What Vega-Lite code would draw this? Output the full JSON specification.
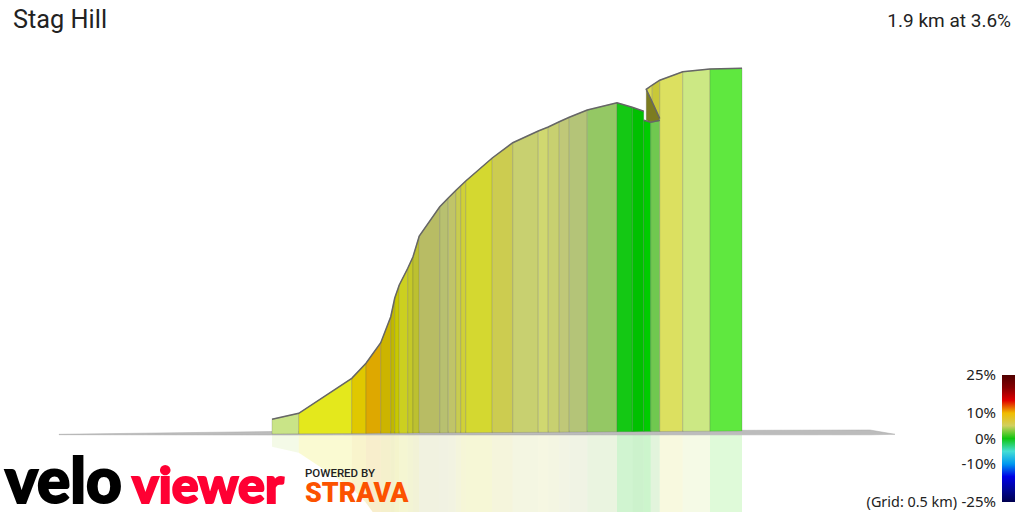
{
  "$schema": "https://vega.github.io/schema/vega-lite/v6.json",
  "width": 1024,
  "height": 512,
  "padding": 0,
  "autosize": "none",
  "background": "white",
  "title": {
    "text": "Stag Hill",
    "anchor": "start",
    "frame": "group",
    "font": "Roboto",
    "fontSize": 25.3,
    "fontWeight": "normal",
    "color": "#222",
    "baseline": "alphabetic",
    "offset": 0,
    "dx": 13,
    "dy": 53
  },
  "config": {
    "view": {"stroke": null},
    "axis": {"disable": true},
    "range": {
      "category": [
        "#c9e487", "#e4e81c", "#e0c800", "#dea800", "#ccb400", "#c0b800", "#c8c800", "#ccd020",
        "#c4c828", "#bcc030", "#b8bc64", "#b8c070", "#c0c468", "#c8cc50", "#d0d038", "#d4d830",
        "#cccc50", "#c8d070", "#d0d870", "#c8d070", "#c0c878", "#b4c478", "#94c864", "#14c814",
        "#00c000", "#00cc00", "#70c850", "#7c7c20", "#d8d850", "#c8c838", "#dce060", "#cce884", "#5fe83f"
      ]
    }
  },
  "datasets": {
    "segments": [
      {"seg": 1, "km": 0, "elev": 2.74, "base": -0.2},
      {"seg": 1, "km": 0.107, "elev": 3.94, "base": -0.17},
      {"seg": 2, "km": 0.107, "elev": 3.94, "base": -0.17},
      {"seg": 2, "km": 0.319, "elev": 10.94, "base": -0.1},
      {"seg": 3, "km": 0.319, "elev": 10.94, "base": -0.1},
      {"seg": 3, "km": 0.376, "elev": 13.94, "base": -0.08},
      {"seg": 4, "km": 0.376, "elev": 13.94, "base": -0.08},
      {"seg": 4, "km": 0.435, "elev": 18.06, "base": -0.06},
      {"seg": 5, "km": 0.435, "elev": 18.06, "base": -0.06},
      {"seg": 5, "km": 0.475, "elev": 23.26, "base": -0.05},
      {"seg": 6, "km": 0.475, "elev": 23.26, "base": -0.05},
      {"seg": 6, "km": 0.491, "elev": 27, "base": -0.04},
      {"seg": 7, "km": 0.491, "elev": 27, "base": -0.04},
      {"seg": 7, "km": 0.509, "elev": 29.6, "base": -0.04},
      {"seg": 8, "km": 0.509, "elev": 29.6, "base": -0.04},
      {"seg": 8, "km": 0.543, "elev": 32.94, "base": -0.03},
      {"seg": 9, "km": 0.543, "elev": 32.94, "base": -0.03},
      {"seg": 9, "km": 0.564, "elev": 35.26, "base": -0.02},
      {"seg": 10, "km": 0.564, "elev": 35.26, "base": -0.02},
      {"seg": 10, "km": 0.589, "elev": 39.4, "base": -0.01},
      {"seg": 11, "km": 0.589, "elev": 39.4, "base": -0.01},
      {"seg": 11, "km": 0.671, "elev": 45.26, "base": 0.01},
      {"seg": 12, "km": 0.671, "elev": 45.26, "base": 0.01},
      {"seg": 12, "km": 0.705, "elev": 47, "base": 0.03},
      {"seg": 13, "km": 0.705, "elev": 47, "base": 0.03},
      {"seg": 13, "km": 0.735, "elev": 48.5, "base": 0.04},
      {"seg": 14, "km": 0.735, "elev": 48.5, "base": 0.04},
      {"seg": 14, "km": 0.755, "elev": 49.4, "base": 0.04},
      {"seg": 15, "km": 0.755, "elev": 49.4, "base": 0.04},
      {"seg": 15, "km": 0.775, "elev": 50.4, "base": 0.05},
      {"seg": 16, "km": 0.775, "elev": 50.4, "base": 0.05},
      {"seg": 16, "km": 0.881, "elev": 55, "base": 0.08},
      {"seg": 17, "km": 0.881, "elev": 55, "base": 0.08},
      {"seg": 17, "km": 0.963, "elev": 58.06, "base": 0.11},
      {"seg": 18, "km": 0.963, "elev": 58.06, "base": 0.11},
      {"seg": 18, "km": 1.065, "elev": 60.4, "base": 0.14},
      {"seg": 19, "km": 1.065, "elev": 60.4, "base": 0.14},
      {"seg": 19, "km": 1.105, "elev": 61.2, "base": 0.15},
      {"seg": 20, "km": 1.105, "elev": 61.2, "base": 0.15},
      {"seg": 20, "km": 1.149, "elev": 62.26, "base": 0.17},
      {"seg": 21, "km": 1.149, "elev": 62.26, "base": 0.17},
      {"seg": 21, "km": 1.189, "elev": 63.14, "base": 0.18},
      {"seg": 22, "km": 1.189, "elev": 63.14, "base": 0.18},
      {"seg": 22, "km": 1.261, "elev": 64.6, "base": 0.2},
      {"seg": 23, "km": 1.261, "elev": 64.6, "base": 0.2},
      {"seg": 23, "km": 1.38, "elev": 66.06, "base": 0.24},
      {"seg": 24, "km": 1.38, "elev": 66.06, "base": 0.24},
      {"seg": 24, "km": 1.441, "elev": 65.14, "base": 0.26},
      {"seg": 25, "km": 1.441, "elev": 65.14, "base": 0.26},
      {"seg": 25, "km": 1.487, "elev": 64.34, "base": 0.28},
      {"seg": 26, "km": 1.487, "elev": 62.54, "base": 0.28},
      {"seg": 26, "km": 1.515, "elev": 62.14, "base": 0.28},
      {"seg": 27, "km": 1.515, "elev": 62.14, "base": 0.28},
      {"seg": 27, "km": 1.551, "elev": 62.54, "base": 0.3},
      {"seg": 28, "km": 1.497, "elev": 68.74, "base": 62.54},
      {"seg": 28, "km": 1.515, "elev": 66.84, "base": 62.2},
      {"seg": 28, "km": 1.551, "elev": 62.9, "base": 62.4},
      {"seg": 29, "km": 1.497, "elev": 68.74, "base": 68.74},
      {"seg": 29, "km": 1.521, "elev": 69.6, "base": 66.2},
      {"seg": 30, "km": 1.521, "elev": 69.6, "base": 66.2},
      {"seg": 30, "km": 1.551, "elev": 70.56, "base": 62.9},
      {"seg": 31, "km": 1.551, "elev": 70.56, "base": 0.3},
      {"seg": 31, "km": 1.643, "elev": 72.26, "base": 0.33},
      {"seg": 32, "km": 1.643, "elev": 72.26, "base": 0.33},
      {"seg": 32, "km": 1.752, "elev": 72.8, "base": 0.36},
      {"seg": 33, "km": 1.752, "elev": 72.8, "base": 0.36},
      {"seg": 33, "km": 1.88, "elev": 72.94, "base": 0.4}
    ],
    "ground": [
      {"km": -0.852, "top": -0.26, "low": -0.34},
      {"km": 0, "top": 0.3, "low": -0.4},
      {"km": 2.392, "top": 0.6, "low": -0.36},
      {"km": 2.492, "top": -0.26, "low": -0.26}
    ],
    "outline": [
      {"run": "a", "step": 1, "km": 0, "elev": 2.74},
      {"run": "a", "step": 2, "km": 0.107, "elev": 3.94},
      {"run": "a", "step": 3, "km": 0.319, "elev": 10.94},
      {"run": "a", "step": 4, "km": 0.376, "elev": 13.94},
      {"run": "a", "step": 5, "km": 0.435, "elev": 18.06},
      {"run": "a", "step": 6, "km": 0.475, "elev": 23.26},
      {"run": "a", "step": 7, "km": 0.491, "elev": 27},
      {"run": "a", "step": 8, "km": 0.509, "elev": 29.6},
      {"run": "a", "step": 9, "km": 0.543, "elev": 32.94},
      {"run": "a", "step": 10, "km": 0.564, "elev": 35.26},
      {"run": "a", "step": 11, "km": 0.589, "elev": 39.4},
      {"run": "a", "step": 12, "km": 0.671, "elev": 45.26},
      {"run": "a", "step": 13, "km": 0.705, "elev": 47},
      {"run": "a", "step": 14, "km": 0.735, "elev": 48.5},
      {"run": "a", "step": 15, "km": 0.775, "elev": 50.4},
      {"run": "a", "step": 16, "km": 0.881, "elev": 55},
      {"run": "a", "step": 17, "km": 0.963, "elev": 58.06},
      {"run": "a", "step": 18, "km": 1.065, "elev": 60.4},
      {"run": "a", "step": 19, "km": 1.105, "elev": 61.2},
      {"run": "a", "step": 20, "km": 1.149, "elev": 62.26},
      {"run": "a", "step": 21, "km": 1.189, "elev": 63.14},
      {"run": "a", "step": 22, "km": 1.261, "elev": 64.6},
      {"run": "a", "step": 23, "km": 1.38, "elev": 66.06},
      {"run": "a", "step": 24, "km": 1.441, "elev": 65.14},
      {"run": "a", "step": 25, "km": 1.487, "elev": 64.34},
      {"run": "b", "step": 1, "km": 1.487, "elev": 62.54},
      {"run": "b", "step": 2, "km": 1.515, "elev": 62.14},
      {"run": "b", "step": 3, "km": 1.551, "elev": 62.54},
      {"run": "c", "step": 1, "km": 1.551, "elev": 62.9},
      {"run": "c", "step": 2, "km": 1.521, "elev": 66.2},
      {"run": "c", "step": 3, "km": 1.497, "elev": 68.74},
      {"run": "c", "step": 4, "km": 1.521, "elev": 69.6},
      {"run": "c", "step": 5, "km": 1.551, "elev": 70.56},
      {"run": "c", "step": 6, "km": 1.643, "elev": 72.26},
      {"run": "c", "step": 7, "km": 1.752, "elev": 72.8},
      {"run": "c", "step": 8, "km": 1.88, "elev": 72.94}
    ]
  },
  "resolve": {"scale": {"y": "independent", "color": "independent"}},
  "layer": [
    {
      "data": {"name": "segments"},
      "mark": {"type": "area", "opacity": 0.2, "clip": true, "line": false},
      "encoding": {
        "x": {"field": "km", "type": "quantitative", "scale": {"domain": [-1.088, 3.008], "nice": false}},
        "y": {"field": "elev", "type": "quantitative", "scale": {"domain": [0, 100], "range": [433, 933]}},
        "y2": {"field": "base"},
        "color": {"field": "seg", "type": "nominal", "legend": null}
      }
    },
    {
      "layer": [
        {
          "data": {"name": "ground"},
          "mark": {"type": "area", "fill": "#bcbcbc", "stroke": "#a8a8a8", "strokeWidth": 0.5},
          "encoding": {
            "x": {"field": "km", "type": "quantitative", "scale": {"domain": [-1.088, 3.008], "nice": false}},
            "y": {"field": "top", "type": "quantitative", "scale": {"domain": [-15.8, 86.6], "nice": false, "zero": false}},
            "y2": {"field": "low"}
          }
        },
        {
          "data": {"name": "segments"},
          "mark": {"type": "area", "stroke": "#555", "strokeOpacity": 0.22, "strokeWidth": 1},
          "encoding": {
            "x": {"field": "km", "type": "quantitative"},
            "y": {"field": "elev", "type": "quantitative"},
            "y2": {"field": "base"},
            "color": {"field": "seg", "type": "nominal", "legend": null}
          }
        },
        {
          "data": {"name": "outline"},
          "mark": {"type": "line", "stroke": "#666", "strokeWidth": 1.5},
          "encoding": {
            "x": {"field": "km", "type": "quantitative"},
            "y": {"field": "elev", "type": "quantitative"},
            "detail": {"field": "run"},
            "order": {"field": "step"}
          }
        },
        {
          "data": {"values": [{"label": "1.9 km at 3.6%"}]},
          "mark": {"type": "text", "align": "right", "baseline": "alphabetic", "font": "Roboto", "fontSize": 19, "color": "#222"},
          "encoding": {
            "x": {"datum": 2.956, "type": "quantitative"},
            "y": {"datum": 81.2, "type": "quantitative"},
            "text": {"field": "label"}
          }
        },
        {
          "data": {"values": [{"label": "(Grid: 0.5 km)"}]},
          "mark": {"type": "text", "align": "right", "baseline": "alphabetic", "font": "Noto Sans", "fontSize": 14.4, "color": "#222"},
          "encoding": {
            "x": {"datum": 2.74, "type": "quantitative"},
            "y": {"datum": -14.8, "type": "quantitative"},
            "text": {"field": "label"}
          }
        },
        {
          "data": {"values": [{"label": "velo"}]},
          "mark": {"type": "text", "align": "left", "baseline": "alphabetic", "font": "Lato", "fontWeight": 900, "fontSize": 62, "color": "#000", "stroke": "#000", "strokeWidth": 2},
          "encoding": {
            "x": {"datum": -1.068, "type": "quantitative"},
            "y": {"datum": -14, "type": "quantitative"},
            "text": {"field": "label"}
          }
        },
        {
          "data": {"values": [{"label": "viewer"}]},
          "mark": {"type": "text", "align": "left", "baseline": "alphabetic", "font": "Lato", "fontWeight": 900, "fontSize": 50, "color": "#ff0033", "stroke": "#ff0033", "strokeWidth": 2},
          "encoding": {
            "x": {"datum": -0.56, "type": "quantitative"},
            "y": {"datum": -14, "type": "quantitative"},
            "text": {"field": "label"}
          }
        },
        {
          "data": {"values": [{"label": "POWERED BY"}]},
          "mark": {"type": "text", "align": "left", "baseline": "alphabetic", "font": "Roboto", "fontWeight": 500, "fontSize": 11.5, "color": "#222"},
          "encoding": {
            "x": {"datum": 0.132, "type": "quantitative"},
            "y": {"datum": -8.8, "type": "quantitative"},
            "text": {"field": "label"}
          }
        },
        {
          "data": {"values": [{"label": "STRAVA"}]},
          "mark": {"type": "text", "align": "left", "baseline": "alphabetic", "font": "Roboto", "fontWeight": 900, "fontSize": 26.8, "color": "#fc5200"},
          "encoding": {
            "x": {"datum": 0.132, "type": "quantitative"},
            "y": {"datum": -13.8, "type": "quantitative"},
            "text": {"field": "label"}
          }
        }
      ]
    },
    {
      "data": {"values": [{"grade": -25}, {"grade": 25}]},
      "mark": {"type": "point", "opacity": 0},
      "encoding": {
        "color": {
          "field": "grade",
          "type": "quantitative",
          "scale": {
            "domain": [-25, -15, -10, -6, -2.5, -1, 0, 1, 2.5, 5, 9, 12, 15, 19, 25],
            "range": ["#00004f", "#0000e6", "#0099f0", "#00e8e8", "#78c8b0", "#50c070", "#10c510", "#90c860", "#b8c070", "#d0d060", "#e8e010", "#f07000", "#e00000", "#900000", "#500000"]
          },
          "legend": {
            "title": null,
            "orient": "none",
            "legendX": 1002,
            "legendY": 375,
            "direction": "vertical",
            "gradientLength": 127,
            "gradientThickness": 13,
            "gradientStrokeWidth": 0,
            "values": [-25, -10, 0, 10, 25],
            "labelExpr": "datum.value + '%'",
            "labelFont": "Noto Sans",
            "labelFontSize": 15,
            "labelColor": "#222",
            "labelOverlap": false,
            "encode": {
              "labels": {
                "update": {
                  "x": {"value": -6},
                  "align": {"value": "right"},
                  "baseline": {"value": "middle"}
                }
              }
            }
          }
        }
      }
    }
  ]
}
